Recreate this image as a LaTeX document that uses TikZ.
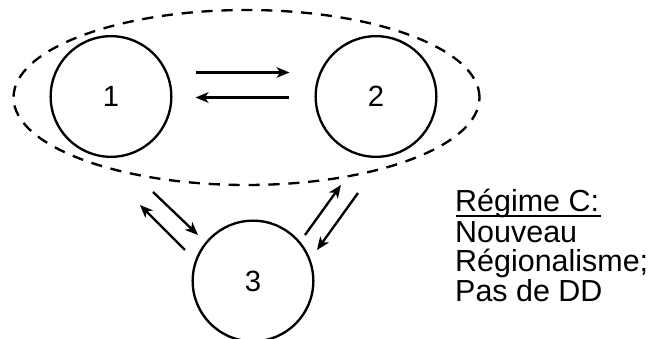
\documentclass[tikz,border=0pt]{standalone}
\usepackage{fontspec}
\setmainfont{Liberation Sans}
\usetikzlibrary{arrows.meta,calc}
\begin{document}
\begin{tikzpicture}[x=0.03cm, y=0.03cm, line join=round, >={Stealth[length=11pt,width=9pt,inset=3pt]},
		etat/.style={draw, circle, line width=2pt, minimum size=3.62cm, inner sep=0pt, font=\fontsize{25}{25}\selectfont},
		fleche/.style={->, line width=2pt},
		zone/.style={dash pattern=on 9.5pt off 7.5pt, line width=2pt},
		ligne/.style={anchor=base west, inner sep=0pt, font=\fontsize{26}{26}\selectfont}]
	\useasboundingbox (0,0) rectangle (658,339);
	\draw[zone] (246.5,241.5) ellipse (233 and 87.5);
	\node[etat] (c1) at (111,242.5) {1};
	\node[etat] (c2) at (376,242.5) {2};
	\node[etat] (c3) at (253,58) {3};
	% echanges entre 1 et 2
	\draw[fleche, shorten <=0.69cm, shorten >=0.75cm] ($(c1.east)+(0,24)$) -- ($(c2.west)+(0,24)$);
	\draw[fleche, shorten <=0.75cm, shorten >=0.69cm] ($(c2.west)+(0,-1)$) -- ($(c1.east)+(0,-1)$);
	% echanges avec 3
	\draw[fleche] ($(c3)+(-100,89)$) -- ($(c3)+(-55,46)$);
	\draw[fleche] ($(c3)+(-68,31)$) -- ($(c3)+(-113,76)$);
	\draw[fleche] ($(c3)+(52,46)$) -- ($(c3)+(88,96)$);
	\draw[fleche] ($(c3)+(105,88)$) -- ($(c3)+(64,31)$);
	% regime
	\node[ligne] (titre) at (455,127) {Régime C:};
	\draw[line width=1.8pt] ($(titre.base west)+(1,-4)$) -- ($(titre.base east)+(2,-4)$);
	\node[ligne] (l1) at (455,96) {Nouveau};
	\node[ligne] (l2) at (455,67) {Régionalisme;};
	\node[ligne] (l3) at (455,37) {Pas de DD};
\end{tikzpicture}
\end{document}
